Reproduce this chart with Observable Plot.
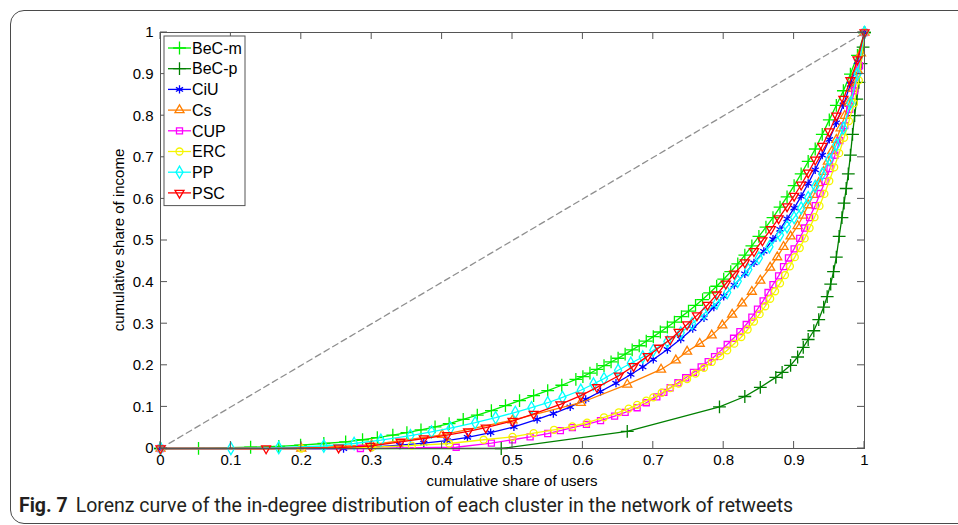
<!DOCTYPE html>
<html>
<head>
<meta charset="utf-8">
<script src="https://cdn.jsdelivr.net/npm/d3@7"></script>
<script src="https://cdn.jsdelivr.net/npm/@observablehq/plot@0.6"></script>
<style>
html,body{margin:0;padding:0;background:#fff;width:958px;height:525px;overflow:hidden;}
#wrap{position:relative;width:958px;height:525px;}
#border{position:absolute;left:10px;top:10px;width:1000px;height:512px;border:1px solid #4a4a4a;border-radius:14px;}
#chart{position:absolute;left:0;top:0;}
#caption{position:absolute;left:19px;top:494px;font-family:Roboto,"Noto Sans",sans-serif;font-size:19.5px;line-height:24px;color:#231f20;white-space:nowrap;}
#caption b{font-weight:bold;margin-right:8px;}
</style>
</head>
<body>
<div id="wrap">
  <div id="border"></div>
  <div id="chart"></div>
  <div id="caption"><b>Fig. 7</b>Lorenz curve of the in-degree distribution of each cluster in the network of retweets</div>
</div>
<script>
// ---------- data ----------
const xTicks = [0, 0.1, 0.2, 0.3, 0.4, 0.5, 0.6, 0.7, 0.8, 0.9, 1];
const yTicks = [0, 0.1, 0.2, 0.3, 0.4, 0.5, 0.6, 0.7, 0.8, 0.9, 1];
const xTitle = "cumulative share of users";
const yTitle = "cumulative share of income";

const diagonal = [[0, 0], [1, 1]];

const BeC_m = [[0,0],[.054,.0005],[.128,.003],[.168,.005],[.199,.008],[.232,.012],[.263,.016],[.287,.021],[.308,.026],[.33,.032],[.35,.038],[.37,.045],[.39,.052],[.41,.06],[.43,.07],[.45,.08],[.47,.091],[.49,.103],[.51,.115],[.53,.127],[.55,.139],[.57,.152],[.59,.166],[.60,.173],[.61,.181],[.62,.19],[.63,.199],[.64,.208],[.65,.217],[.66,.227],[.67,.237],[.68,.247],[.69,.258],[.70,.269],[.71,.28],[.72,.292],[.73,.304],[.74,.317],[.75,.33],[.76,.344],[.77,.358],[.78,.374],[.79,.39],[.80,.407],[.81,.425],[.82,.444],[.83,.465],[.84,.487],[.85,.51],[.86,.532],[.87,.555],[.88,.58],[.89,.605],[.90,.632],[.91,.66],[.92,.69],[.93,.72],[.94,.755],[.95,.79],[.96,.825],[.97,.86],[.98,.9],[.99,.945],[1,1]];

const BeC_p = [[0,0],[.484,0],[.663,.041],[.794,.1],[.83,.125],[.852,.147],[.874,.171],[.883,.183],[.895,.2],[.905,.22],[.913,.243],[.92,.262],[.928,.283],[.935,.31],[.942,.34],[.947,.365],[.952,.395],[.956,.425],[.96,.46],[.964,.51],[.968,.555],[.971,.59],[.974,.625],[.977,.66],[.98,.705],[.983,.755],[.986,.8],[.989,.84],[.992,.88],[.995,.925],[.998,.965],[1,1]];

const CiU = [[0,0],[.26,0],[.30,.003],[.34,.008],[.374,.013],[.407,.019],[.436,.027],[.469,.038],[.502,.052],[.535,.07],[.558,.084],[.582,.1],[.604,.118],[.625,.137],[.647,.157],[.668,.178],[.685,.196],[.70,.214],[.72,.238],[.739,.263],[.756,.288],[.772,.314],[.786,.34],[.80,.366],[.815,.393],[.83,.42],[.843,.446],[.857,.474],[.87,.503],[.88,.527],[.89,.552],[.90,.578],[.91,.606],[.92,.637],[.93,.67],[.94,.705],[.95,.743],[.96,.783],[.97,.826],[.98,.875],[.99,.93],[1,1]];

const Cs = [[0,0],[.2,0],[.3,.009],[.4,.033],[.5,.068],[.597,.11],[.663,.154],[.711,.19],[.732,.212],[.748,.233],[.766,.252],[.783,.272],[.798,.296],[.812,.322],[.826,.349],[.84,.377],[.852,.404],[.866,.435],[.876,.46],[.885,.485],[.895,.51],[.905,.535],[.913,.56],[.92,.585],[.928,.61],[.935,.638],[.942,.665],[.948,.69],[.954,.715],[.96,.742],[.966,.77],[.972,.8],[.978,.83],[.984,.865],[.99,.91],[.995,.95],[1,1]];

const CUP = [[0,0],[.284,0],[.42,.003],[.47,.013],[.5,.021],[.525,.028],[.55,.036],[.568,.043],[.585,.05],[.605,.058],[.625,.067],[.645,.078],[.66,.087],[.677,.098],[.69,.11],[.705,.124],[.715,.135],[.724,.146],[.735,.158],[.746,.17],[.757,.183],[.768,.196],[.778,.209],[.787,.221],[.795,.234],[.805,.25],[.814,.265],[.823,.281],[.832,.298],[.84,.316],[.848,.335],[.856,.355],[.863,.375],[.87,.394],[.878,.415],[.885,.437],[.892,.458],[.9,.48],[.908,.505],[.915,.53],[.922,.555],[.93,.584],[.937,.613],[.944,.642],[.951,.673],[.958,.705],[.965,.74],[.972,.776],[.979,.815],[.986,.86],[.993,.92],[1,1]];

const ERC = [[0,0],[.2,0],[.3,.003],[.357,.007],[.41,.012],[.459,.021],[.50,.028],[.53,.037],[.559,.045],[.585,.053],[.606,.062],[.63,.075],[.651,.087],[.665,.096],[.677,.105],[.69,.115],[.70,.123],[.712,.134],[.724,.145],[.736,.156],[.748,.167],[.76,.18],[.772,.194],[.783,.208],[.795,.222],[.805,.236],[.815,.252],[.825,.268],[.834,.286],[.843,.305],[.851,.323],[.859,.342],[.866,.36],[.873,.378],[.88,.397],[.887,.417],[.894,.438],[.901,.46],[.908,.482],[.915,.505],[.922,.53],[.929,.556],[.936,.583],[.943,.612],[.95,.643],[.957,.676],[.964,.71],[.971,.747],[.978,.787],[.985,.83],[.992,.885],[1,1]];

const PP = [[0,0],[.1,0],[.168,.002],[.232,.006],[.275,.012],[.313,.02],[.355,.031],[.385,.04],[.412,.049],[.447,.062],[.476,.074],[.504,.087],[.527,.098],[.55,.11],[.571,.123],[.597,.14],[.615,.155],[.63,.168],[.65,.188],[.668,.205],[.685,.22],[.70,.236],[.72,.257],[.739,.278],[.755,.3],[.772,.324],[.79,.35],[.805,.375],[.82,.402],[.835,.43],[.85,.458],[.865,.485],[.88,.513],[.89,.533],[.90,.555],[.91,.578],[.92,.603],[.93,.63],[.94,.66],[.95,.695],[.96,.73],[.97,.77],[.98,.83],[.99,.9],[1,1]];

const PSC = [[0,0],[.15,0],[.253,.002],[.298,.006],[.341,.016],[.374,.024],[.407,.032],[.437,.041],[.462,.05],[.50,.066],[.53,.083],[.568,.106],[.597,.127],[.62,.147],[.651,.175],[.672,.198],[.692,.222],[.708,.242],[.724,.262],[.736,.28],[.748,.298],[.762,.32],[.777,.345],[.79,.37],[.803,.396],[.815,.42],[.83,.447],[.843,.474],[.855,.5],[.867,.527],[.878,.553],[.89,.582],[.90,.607],[.91,.634],[.92,.663],[.93,.694],[.94,.727],[.95,.762],[.96,.8],[.97,.84],[.98,.885],[.99,.935],[1,1]];

const seriesNames = ["BeC-m", "BeC-p", "CiU", "Cs", "CUP", "ERC", "PP", "PSC"];
const seriesData = [BeC_m, BeC_p, CiU, Cs, CUP, ERC, PP, PSC];
const seriesColors = ["#00f000", "#008000", "#0000ff", "#ff7f00", "#ff00ff", "#f5f500", "#00ffff", "#ff0000"];

// ---------- symbols ----------
const triUp = {draw(ctx, size) {
  const s = Math.sqrt(size) * 0.6824, t = s / 2, u = s * Math.sqrt(3) / 2;
  ctx.moveTo(0, -s); ctx.lineTo(u, t); ctx.lineTo(-u, t); ctx.closePath();
}};
const triDown = {draw(ctx, size) {
  const s = Math.sqrt(size) * 0.6824, t = s / 2, u = s * Math.sqrt(3) / 2;
  ctx.moveTo(0, s); ctx.lineTo(u, -t); ctx.lineTo(-u, -t); ctx.closePath();
}};
const seriesSymbols = [d3.symbolPlus, d3.symbolPlus, d3.symbolAsterisk, triUp, d3.symbolSquare, d3.symbolCircle, d3.symbolDiamond, triDown];
const seriesR = [4.2, 4.2, 3.9, 4.3, 3.4, 3.5, 3.7, 4.3];

const fmt = d => d === 0 ? "0" : d === 1 ? "1" : d.toFixed(1);

const marks = [
  Plot.line(diagonal, {x: d => d[0], y: d => d[1], stroke: "#8f8f8f", strokeWidth: 1.3, strokeDasharray: "6,4"})
];
seriesData.forEach((data, i) => {
  marks.push(Plot.line(data, {x: d => d[0], y: d => d[1], stroke: seriesColors[i], strokeWidth: 1.3}));
  marks.push(Plot.dot(data, {x: d => d[0], y: d => d[1], stroke: seriesColors[i], fill: "none", strokeWidth: 1.3, r: seriesR[i], symbol: seriesSymbols[i]}));
});
marks.push(Plot.frame({stroke: "#555"}));
marks.push(Plot.axisX({anchor: "bottom", ticks: xTicks, tickSize: 0, tickPadding: 6, tickFormat: fmt, label: null}));
marks.push(Plot.axisY({anchor: "left", ticks: yTicks, tickSize: 0, tickPadding: 7, tickFormat: fmt, label: null}));

const plot = Plot.plot({
  width: 958,
  height: 495,
  marginLeft: 160,
  marginRight: 94,
  marginTop: 32,
  marginBottom: 47,
  x: {domain: [0, 1], label: null},
  y: {domain: [0, 1], label: null},
  style: {fontFamily: "'Liberation Sans', Arial, sans-serif", fontSize: "15px", color: "#000", background: "transparent", overflow: "visible"},
  marks
});
document.getElementById("chart").appendChild(plot);

// ---------- inward ticks on all four sides, titles, legend ----------
const sx = plot.scale("x"), sy = plot.scale("y");
const svg = d3.select(plot);
const x0 = sx.apply(0), x1 = sx.apply(1), y0 = sy.apply(0), y1 = sy.apply(1);
const tk = 7;
const g = svg.append("g").attr("stroke", "#555").attr("stroke-width", 1);
xTicks.forEach(v => {
  const px = sx.apply(v);
  g.append("line").attr("x1", px).attr("x2", px).attr("y1", y0).attr("y2", y0 - tk);
  g.append("line").attr("x1", px).attr("x2", px).attr("y1", y1).attr("y2", y1 + tk);
});
yTicks.forEach(v => {
  const py = sy.apply(v);
  g.append("line").attr("x1", x0).attr("x2", x0 + tk).attr("y1", py).attr("y2", py);
  g.append("line").attr("x1", x1).attr("x2", x1 - tk).attr("y1", py).attr("y2", py);
});

svg.append("text").attr("x", (x0 + x1) / 2).attr("y", y0 + 38).attr("text-anchor", "middle")
  .attr("font-size", "15px").attr("fill", "#000").text(xTitle);
svg.append("text").attr("transform", `translate(${x0 - 36},${(y0 + y1) / 2}) rotate(-90)`).attr("text-anchor", "middle")
  .attr("font-size", "15px").attr("fill", "#000").text(yTitle);

// legend (upper-left, inside the axes)
const lg = svg.append("g");
const lx = x0 + 4, ly = y1 + 4, lw = 81, rowH = 20.7;
lg.append("rect").attr("x", lx).attr("y", ly).attr("width", lw).attr("height", rowH * seriesNames.length + 4)
  .attr("fill", "white").attr("stroke", "#555").attr("stroke-width", 1);
seriesNames.forEach((n, i) => {
  const cy = ly + 12 + i * rowH;
  lg.append("line").attr("x1", lx + 4).attr("x2", lx + 27).attr("y1", cy).attr("y2", cy).attr("stroke", seriesColors[i]).attr("stroke-width", 1.3);
  lg.append("path").attr("transform", `translate(${lx + 15.5},${cy})`)
    .attr("d", d3.symbol(seriesSymbols[i], Math.PI * seriesR[i] * seriesR[i])())
    .attr("fill", "none").attr("stroke", seriesColors[i]).attr("stroke-width", 1.3);
  lg.append("text").attr("x", lx + 28).attr("y", cy).attr("dy", "0.36em").attr("text-anchor", "start")
    .attr("font-size", "16px").attr("fill", "#000").text(n);
});
</script>
</body>
</html>
